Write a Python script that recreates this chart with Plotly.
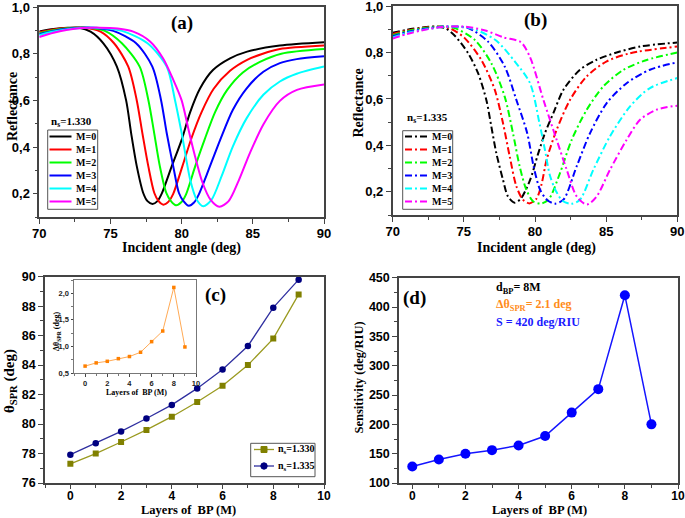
import plotly.graph_objects as go

W, H = 685, 518
def X(p): return p / W
def Y(p): return 1 - p / H

# ---------------- data ----------------
angles_label = "Incident angle (deg)"
m_labels = ["M=0", "M=1", "M=2", "M=3", "M=4", "M=5"]
colors = ["#000000", "#FF0000", "#00FF00", "#0000FF", "#00FFFF", "#FF00FF"]
refl_ticks = [0.2, 0.4, 0.6, 0.8, 1.0]
refl_ticktext = ["0,2", "0,4", "0,6", "0,8", "1,0"]
inset_ticks = [0.5, 1.0, 1.5, 2.0]
inset_ticktext = ["0,5", "1,0", "1,5", "2,0"]

# panel (a) ns = 1.330
a_x0 = [70, 71, 72, 72.8, 73.6, 74.5, 75.45, 76.1, 76.45, 76.85, 77.3, 77.6, 77.95, 78.3, 78.6, 79.3, 80.0, 80.6, 81.3, 82.2, 83.4, 84.6, 86.9, 90]
a_y0 = [.896, .906, .911, .912, .895, .845, .745, .600, .460, .317, .203, .168, .156, .168, .200, .317, .431, .550, .652, .730, .780, .809, .835, .849]
a_x1 = [70, 71, 72, 73.2, 74.3, 75.25, 76.25, 76.84, 77.24, 77.66, 78.08, 78.38, 78.72, 79.08, 79.4, 80.05, 80.7, 81.4, 82.25, 83.4, 84.6, 85.7, 86.9, 90]
a_y1 = [.892, .904, .910, .912, .895, .845, .745, .602, .460, .317, .203, .168, .153, .166, .198, .317, .440, .550, .650, .727, .774, .800, .820, .835]
a_x2 = [70, 71, 72, 73.4, 74.6, 75.8, 77.05, 77.66, 78.07, 78.47, 78.92, 79.25, 79.6, 79.97, 80.3, 80.95, 81.6, 82.35, 83.2, 84.3, 85.5, 87.0, 90]
a_y2 = [.888, .901, .909, .912, .898, .845, .745, .602, .460, .317, .203, .168, .150, .163, .196, .317, .430, .550, .645, .720, .765, .800, .820]
a_x3 = [70, 71, 72, 73.7, 75.2, 76.8, 77.94, 78.55, 78.95, 79.41, 79.81, 80.13, 80.5, 80.87, 81.2, 81.76, 82.7, 83.6, 84.57, 85.74, 86.9, 88.08, 90]
a_y3 = [.884, .898, .907, .912, .898, .845, .745, .602, .460, .317, .203, .168, .148, .162, .196, .281, .430, .560, .652, .723, .760, .777, .789]
a_x4 = [70, 71, 72, 74.0, 75.8, 77.6, 78.95, 79.53, 80.0, 80.6, 81.06, 81.52, 82.1, 82.8, 83.6, 84.57, 85.74, 86.9, 88.08, 90]
a_y4 = [.880, .895, .905, .912, .898, .845, .745, .602, .460, .260, .174, .146, .174, .274, .403, .524, .624, .681, .714, .745]
a_x5 = [70, 71, 72, 73, 74.2, 75.5, 76.6, 77.78, 78.7, 79.4, 80.0, 80.5, 80.9, 81.45, 82.05, 82.65, 83.3, 84.0, 84.8, 85.75, 86.9, 88.1, 90]
a_y5 = [.872, .890, .903, .910, .912, .908, .895, .853, .780, .690, .600, .470, .370, .250, .172, .144, .168, .255, .375, .498, .598, .645, .668]

# panel (b) ns = 1.335
b_x0 = [70, 71, 72, 73.0, 73.7, 74.4, 75.3, 76.0, 76.58, 76.93, 77.28, 77.75, 78.1, 78.57, 79.0, 79.65, 80.2, 80.7, 81.29, 82.0, 83.16, 84.33, 85.74, 87.38, 90]
b_y0 = [.885, .898, .907, .912, .905, .870, .797, .711, .596, .482, .367, .252, .180, .153, .170, .250, .360, .453, .539, .640, .726, .769, .800, .826, .843]
b_x1 = [70, 71, 72, 73.2, 74.0, 75.06, 76.23, 77.17, 77.75, 78.22, 78.69, 79.15, 79.6, 80.1, 80.45, 80.82, 81.52, 82.46, 83.63, 85.04, 86.68, 90]
b_y1 = [.880, .895, .905, .912, .905, .862, .768, .640, .496, .353, .224, .166, .150, .170, .230, .339, .467, .596, .697, .762, .797, .826]
b_x2 = [70, 71, 72, 73.4, 74.36, 75.76, 76.93, 77.87, 78.45, 78.92, 79.39, 79.86, 80.35, 80.7, 81.05, 81.76, 82.58, 83.63, 84.8, 86.2, 87.85, 90]
b_y2 = [.875, .892, .903, .912, .905, .855, .754, .610, .453, .310, .209, .159, .149, .155, .175, .281, .424, .553, .654, .725, .768, .800]
b_x3 = [70, 71, 72, 73.7, 75.3, 76.7, 77.87, 78.69, 79.45, 79.9, 80.35, 80.85, 81.4, 82.0, 82.93, 83.87, 85.04, 86.44, 88.08, 90]
b_y3 = [.870, .888, .900, .912, .905, .847, .740, .596, .453, .310, .210, .165, .149, .166, .310, .453, .582, .668, .726, .758]
b_x4 = [70, 71, 72, 74.0, 75.5, 77.2, 78.6, 79.65, 80.3, 80.7, 81.05, 81.5, 81.95, 82.55, 83.16, 84.1, 85.27, 86.68, 88.08, 90]
b_y4 = [.865, .884, .897, .912, .905, .855, .760, .668, .500, .380, .270, .200, .160, .148, .166, .295, .439, .568, .647, .690]
b_x5 = [70, 71, 72, 73.5, 75.0, 76.5, 77.8, 79.0, 79.65, 80.59, 81.52, 82.23, 82.93, 83.65, 84.33, 85.27, 86.44, 87.38, 88.55, 90]
b_y5 = [.860, .880, .895, .910, .912, .895, .865, .845, .780, .596, .424, .295, .180, .145, .180, .295, .424, .510, .554, .571]

# panels (c), (d) and inset
layers = [0, 1, 2, 3, 4, 5, 6, 7, 8, 9]
theta_1330 = [77.3, 78.0, 78.78, 79.6, 80.5, 81.5, 82.6, 84.0, 85.8, 88.8]
theta_1335 = [77.92, 78.69, 79.5, 80.38, 81.3, 82.42, 83.7, 85.3, 87.9, 89.8]
delta_theta = [0.63, 0.69, 0.72, 0.77, 0.81, 0.89, 1.09, 1.29, 2.11, 0.99]
sensitivity = [128, 140, 150, 156, 164, 180, 220, 260, 420, 200]

a_xs = [a_x0, a_x1, a_x2, a_x3, a_x4, a_x5]
a_ys = [a_y0, a_y1, a_y2, a_y3, a_y4, a_y5]
b_xs = [b_x0, b_x1, b_x2, b_x3, b_x4, b_x5]
b_ys = [b_y0, b_y1, b_y2, b_y3, b_y4, b_y5]

DASHDOT = "7px,3px,2px,3px"
SERIF = "Liberation Serif"
SANS = "Liberation Sans"

fig = go.Figure()

for i in range(6):
    fig.add_trace(go.Scatter(x=a_xs[i], y=a_ys[i], mode="lines", name=m_labels[i],
                             line=dict(color=colors[i], width=2, shape="spline", smoothing=0.8),
                             xaxis="x", yaxis="y"))
for i in range(6):
    fig.add_trace(go.Scatter(x=b_xs[i], y=b_ys[i], mode="lines", name=m_labels[i],
                             line=dict(color=colors[i], width=2, shape="spline", smoothing=0.8, dash=DASHDOT),
                             xaxis="x2", yaxis="y2"))

fig.add_trace(go.Scatter(x=layers, y=theta_1330, mode="lines+markers", name="ns=1.330",
                         line=dict(color="#9A9A20", width=1.3),
                         marker=dict(symbol="square", size=6, color="#808000"),
                         xaxis="x3", yaxis="y3"))
fig.add_trace(go.Scatter(x=layers, y=theta_1335, mode="lines+markers", name="ns=1.335",
                         line=dict(color="#3030A0", width=1.3),
                         marker=dict(symbol="circle", size=6.5, color="#000080"),
                         xaxis="x3", yaxis="y3"))
fig.add_trace(go.Scatter(x=layers, y=sensitivity, mode="lines+markers", name="S",
                         line=dict(color="#1515FF", width=1.5),
                         marker=dict(symbol="circle", size=10, color="#0000FF"),
                         xaxis="x4", yaxis="y4"))
fig.add_trace(go.Scatter(x=layers, y=delta_theta, mode="lines+markers", name="dtheta",
                         line=dict(color="#FFAA55", width=1),
                         marker=dict(symbol="square", size=3.5, color="#FF8000"),
                         xaxis="x5", yaxis="y5"))

def ax(dom, rng, **kw):
    d = dict(domain=dom, range=rng, showline=True, linecolor="#444", linewidth=1.5, mirror=True,
             ticks="outside", ticklen=5, tickwidth=1.2, tickcolor="#444", showgrid=False,
             zeroline=False, automargin=False, ticklabeloverflow="allow",
             tickfont=dict(family=SANS, size=13, color="black", weight="bold"),
             minor=dict(ticks="outside", ticklen=3, tickwidth=1, tickcolor="#444", showgrid=False))
    d.update(kw)
    return d

small_font = dict(family=SANS, size=7.5, color="#222", weight="bold")
small_minor = dict(ticks="outside", ticklen=2, tickwidth=0.8, tickcolor="#777")
refl_minor = dict(ticks="outside", ticklen=3, tickwidth=1, tickcolor="#444", tick0=0.1, dtick=0.2)
lower_font = dict(family=SANS, size=12.5, color="black", weight="bold")
lower_xfont = dict(family=SANS, size=12, color="black", weight="bold")

fig.update_layout(
    width=W, height=H, margin=dict(l=0, r=0, t=0, b=0),
    paper_bgcolor="white", plot_bgcolor="white", showlegend=False,
    xaxis=ax([X(39.3), X(324)], [70, 90], tick0=70, dtick=5, anchor="y", minor_dtick=2.5,
             ticklabelstandoff=-1),
    yaxis=ax([Y(217), Y(7)], [0.1, 1.0005], tickmode="array", tickvals=refl_ticks, ticktext=refl_ticktext,
             anchor="x", minor=refl_minor),
    xaxis2=ax([X(392.7), X(677.3)], [70, 90], tick0=70, dtick=5, anchor="y2", minor_dtick=2.5,
              ticklabelstandoff=-1),
    yaxis2=ax([Y(215), Y(6)], [0.1, 1.0005], tickmode="array", tickvals=refl_ticks, ticktext=refl_ticktext,
              anchor="x2", minor=refl_minor),
    xaxis3=ax([X(45), X(324)], [-1, 10], tick0=0, dtick=2, anchor="y3", minor_dtick=1, tickfont=lower_xfont,
              ticklen=4, ticklabelstandoff=-3),
    yaxis3=ax([Y(483), Y(276.7)], [76, 90], tick0=76, dtick=2, anchor="x3", minor_dtick=1, tickfont=lower_font),
    xaxis4=ax([X(399), X(678)], [-0.5, 10], tick0=0, dtick=2, anchor="y4", minor_dtick=1, tickfont=lower_xfont,
              ticklen=4, ticklabelstandoff=-3),
    yaxis4=ax([Y(483), Y(277.7)], [100, 450], tick0=100, dtick=50, anchor="x4", minor_dtick=25, tickfont=lower_font),
    xaxis5=ax([X(74), X(196)], [-1, 10], tick0=0, dtick=2, anchor="y5",
              linecolor="#777", linewidth=1, ticklen=2.5, tickfont=small_font,
              minor=dict(small_minor, dtick=1)),
    yaxis5=ax([Y(373), Y(280)], [0.5, 2.25], tickmode="array", tickvals=inset_ticks, ticktext=inset_ticktext,
              anchor="x5", linecolor="#777", linewidth=1, ticklen=2.5, tickfont=small_font,
              minor=dict(small_minor, tick0=0.25, dtick=0.5)),
)

ann = []
def txt(x, y, s, size, color="black", angle=0, xanchor="center", family=SERIF):
    ann.append(dict(x=X(x), y=Y(y), xref="paper", yref="paper", text="<b>" + s + "</b>", showarrow=False,
                    font=dict(family=family, size=size, color=color), textangle=angle,
                    xanchor=xanchor, yanchor="middle"))

# axis titles
txt(181.7, 247.5, angles_label, 14)
txt(12, 107, "Reflectance", 14, angle=-90)
txt(536, 247.5, angles_label, 14)
txt(358.5, 103, "Reflectance", 14, angle=-90)
txt(188.7, 510.3, "Layers of  BP (M)", 12.5)
txt(10, 381, "θ<sub>SPR</sub> (deg)", 15, angle=-90)
txt(539.5, 510.3, "Layers of  BP (M)", 12.5)
txt(358.5, 378, "Sensitivity (deg/RIU)", 12.5, angle=-90)
txt(136, 392.5, "Layers of  BP (M)", 8)
txt(57, 332, "Δθ<sub>SPR</sub> (deg)", 8, angle=-90)

# panel labels
txt(181.7, 23, "(a)", 19)
txt(535, 20, "(b)", 19)
txt(215, 294.5, "(c)", 19)
txt(414, 297.5, "(d)", 19)

# panel (d) notes
txt(494, 288, "d<sub>BP</sub>= 8M", 12, xanchor="left")
txt(494, 305, "Δθ<sub>SPR</sub>= 2.1 deg", 12, color="#FF8C1A", xanchor="left")
txt(494, 321.5, "S = 420 deg/RIU", 12, color="#1A1AFF", xanchor="left")

shapes = []
def rect(x0, y0, x1, y1, color="#555", width=1, fill=None):
    shapes.append(dict(type="rect", xref="paper", yref="paper", x0=X(x0), x1=X(x1), y0=Y(y1), y1=Y(y0),
                       line=dict(color=color, width=width), fillcolor=fill))
def seg(x0, x1, y, color, dash=None, width=2):
    shapes.append(dict(type="line", xref="paper", yref="paper", x0=X(x0), x1=X(x1), y0=Y(y), y1=Y(y),
                       line=dict(color=color, width=width, dash=dash)))

# legend (a)
rect(47.7, 130, 97.7, 209.3)
txt(49, 122, "n<sub>s</sub>=1.330", 11, xanchor="left")
a_leg_y = [136.5, 149.5, 162.5, 175.5, 188.5, 201.5]
for i in range(6):
    seg(49.5, 71.5, a_leg_y[i], colors[i])
    txt(74, a_leg_y[i], m_labels[i], 10, xanchor="left")

# legend (b)
rect(402.7, 130.7, 452.7, 209.3)
txt(405, 118.5, "n<sub>s</sub>=1.335", 11, xanchor="left")
b_leg_y = [136.5, 149.5, 162.5, 175.5, 188.5, 201.5]
for i in range(6):
    seg(405, 427, b_leg_y[i], colors[i], dash=DASHDOT)
    txt(430, b_leg_y[i], m_labels[i], 10, xanchor="left")

# legend (c)
rect(250.7, 443.3, 315, 476.7)
seg(254, 274, 449.5, "#9A9A20", width=1.3)
rect(261, 446.5, 267, 452.5, color="#808000", fill="#808000")
txt(276, 449.5, "n<sub>s</sub>=1.330", 10, xanchor="left")
seg(254, 274, 466, "#3030A0", width=1.3)
shapes.append(dict(type="circle", xref="paper", yref="paper", x0=X(260.8), x1=X(267.2), y0=Y(469.2), y1=Y(462.8),
                   line=dict(color="#000080", width=1), fillcolor="#000080"))
txt(276, 466, "n<sub>s</sub>=1.335", 10, xanchor="left")

fig.update_layout(annotations=ann, shapes=shapes)
fig.write_html("out.html", config={"displayModeBar": False},
               post_script="document.body.style.margin='0';document.body.style.padding='0';"
                           "document.body.style.overflow='hidden';")
